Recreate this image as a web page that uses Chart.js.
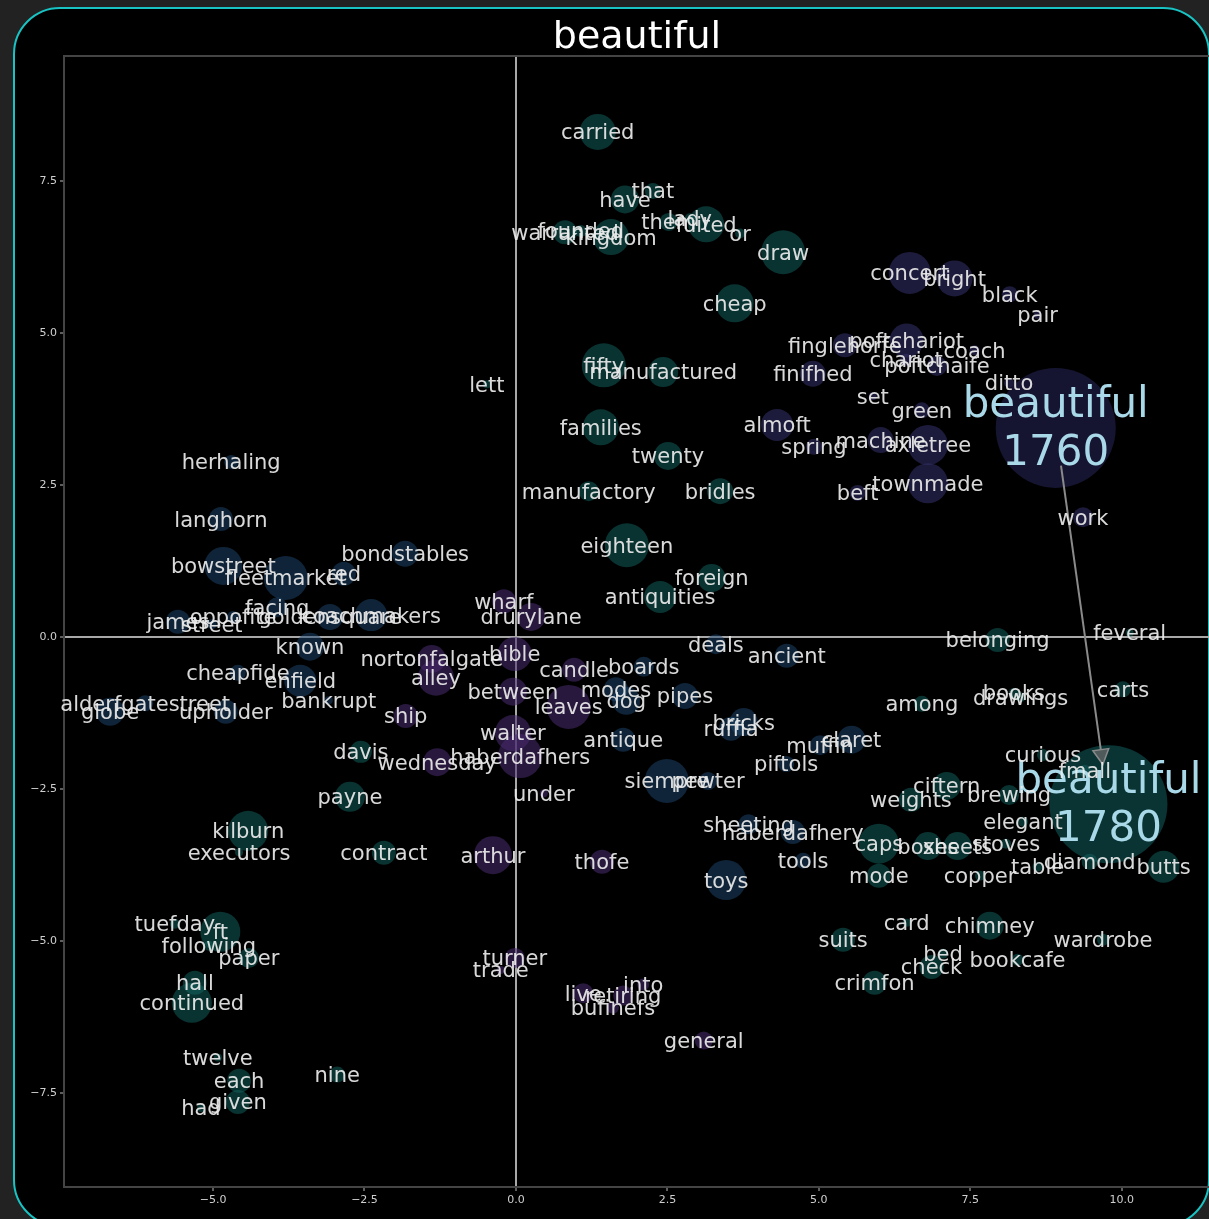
<!DOCTYPE html>
<html>
<head>
<meta charset="utf-8">
<script src="https://cdn.jsdelivr.net/npm/chart.js"></script>
<style>
  html, body { margin: 0; padding: 0; background: #222; overflow: hidden; width: 1209px; height: 1219px; }
  #frame { position: absolute; left: 13px; top: 7px; width: 1193px; height: 1216px; border: 2px solid #19c3c3; border-radius: 47px; background: #000; }
  #chart { position: absolute; left: 0; top: 0; }
</style>
</head>
<body>
<div id="frame"></div>
<canvas id="chart" width="1209" height="1219"></canvas>
<script>
// --- Axis ticks ---
const xTicks = [-5, -2.5, 0, 2.5, 5, 7.5, 10];
const yTicks = [-7.5, -5, -2.5, 0, 2.5, 5, 7.5];

// --- Words closest to 1780 (teal) ---
const tealWords = ['carried','have','that','warranted','founded','kingdom','them','lady','fuited','or',
  'draw','cheap','lett','fifty','manufactured','families','twenty','manufactory','bridles','eighteen',
  'foreign','antiquities','davis','payne','kilburn','executors','contract','weights','ciftern','brewing',
  'curious','fmall','elegant','caps','boxes','sheets','stoves','table','diamond','copper',
  'mode','butts','card','chimney','wardrobe','suits','bed','check','bookcafe','crimfon',
  'belonging','feveral','among','books','drawings','carts','tuefday','ft','following','paper',
  'hall','continued','twelve','each','given','had','nine'];
const tealX = [1.35,1.80,2.26,0.81,1.07,1.57,2.52,2.87,3.14,3.70,
  4.41,3.61,-0.48,1.45,2.43,1.40,2.51,1.20,3.37,1.83,
  3.23,2.38,-2.56,-2.74,-4.42,-4.57,-2.18,6.52,7.11,8.14,
  8.70,9.39,8.37,5.99,6.80,7.29,8.09,8.61,9.47,7.66,
  5.99,10.69,6.45,7.82,9.69,5.40,7.05,6.86,8.28,5.92,
  7.95,10.13,6.70,8.22,8.33,10.02,-5.63,-4.88,-5.07,-4.41,
  -5.30,-5.35,-4.92,-4.57,-4.59,-5.20,-2.95];
const tealY = [8.31,7.20,7.34,6.66,6.68,6.58,6.83,6.89,6.79,6.64,
  6.33,5.49,4.16,4.47,4.36,3.45,2.98,2.40,2.40,1.51,
  0.97,0.66,-1.89,-2.63,-3.19,-3.54,-3.55,-2.68,-2.45,-2.60,
  -1.94,-2.20,-3.04,-3.40,-3.44,-3.44,-3.40,-3.78,-3.70,-3.93,
  -3.93,-3.78,-4.70,-4.75,-4.98,-4.98,-5.21,-5.43,-5.31,-5.69,
  -0.05,0.07,-1.10,-0.92,-0.99,-0.86,-4.72,-4.85,-5.08,-5.28,
  -5.69,-6.02,-6.92,-7.30,-7.65,-7.75,-7.20];
const tealSize = [18,14,8,12,6,18,9,5,18,5,
  22,19,4,22,15,18,14,10,13,22,
  14,16,11,15,20,4,12,12,14,10,
  6,6,5,20,14,14,5,5,8,5,
  12,16,4,14,6,12,5,12,6,12,
  12,4,8,5,5,8,5,20,5,10,
  12,20,4,12,12,4,8];

// --- London / street words (blue) ---
const blueWords = ['herhaling','langhorn','bowstreet','fleetmarket','red','bondstables','james','street','oppofite','facing',
  'goldensquare','coachmakers','known','cheapfide','enfield','bankrupt','alderfgatestreet','globe','upholder','boards',
  'modes','dog','pipes','deals','ancient','bricks','ruffia','antique','muffin','claret',
  'piftols','siempre','pewter','toys','sheeting','haberdafhery','tools'];
const blueX = [-4.70,-4.87,-4.83,-3.80,-2.84,-1.83,-5.58,-5.02,-4.67,-3.94,
  -3.07,-2.39,-3.40,-4.59,-3.56,-3.09,-6.12,-6.70,-4.79,2.11,
  1.65,1.82,2.79,3.30,4.47,3.76,3.55,1.77,5.02,5.54,
  4.46,2.49,3.17,3.47,3.84,4.57,4.74];
const blueY = [2.88,1.94,1.17,0.97,1.04,1.37,0.25,0.21,0.33,0.49,
  0.33,0.36,-0.16,-0.59,-0.72,-1.04,-1.09,-1.23,-1.23,-0.49,
  -0.86,-1.05,-0.97,-0.12,-0.31,-1.40,-1.51,-1.69,-1.78,-1.69,
  -2.09,-2.37,-2.37,-4.00,-3.08,-3.21,-3.68];
const blueSize = [7,12,19,22,12,13,12,5,6,10,
  13,16,14,8,16,4,8,14,12,10,
  12,14,13,10,12,14,12,12,10,14,
  8,22,9,20,10,12,8];

// --- Words closest to 1760 (navy) ---
const navyWords = ['concert','bright','black','pair','finglehorfe','poftchariot','chariot','coach','poftchaife','finifhed',
  'set','green','ditto','almoft','spring','machine','axletree','townmade','beft','work'];
const navyX = [6.50,7.24,8.15,8.61,5.43,6.45,6.44,7.57,6.95,4.90,
  5.89,6.70,8.14,4.31,4.92,6.02,6.80,6.80,5.64,9.36];
const navyY = [5.99,5.90,5.64,5.30,4.80,4.88,4.56,4.72,4.46,4.33,
  3.96,3.73,4.18,3.49,3.13,3.24,3.16,2.53,2.37,1.97];
const navySize = [21,18,8,4,12,17,6,5,10,13,
  4,8,5,16,8,13,20,20,8,10];

// --- Middle-period words (purple) ---
const purpleWords = ['wharf','drurylane','nortonfalgate','alley','bible','ship','candle','between','leaves','walter',
  'haberdafhers','wednesday','under','arthur','thofe','turner','trade','live','retiring','into',
  'bufinefs','general'];
const purpleX = [-0.20,0.25,-1.39,-1.32,-0.02,-1.82,0.96,-0.05,0.87,-0.05,
  0.07,-1.30,0.46,-0.38,1.42,-0.02,-0.25,1.11,1.77,2.10,
  1.60,3.10];
const purpleY = [0.59,0.33,-0.36,-0.67,-0.28,-1.30,-0.54,-0.90,-1.15,-1.58,
  -1.96,-2.06,-2.57,-3.59,-3.70,-5.28,-5.48,-5.86,-5.90,-5.72,
  -6.10,-6.64];
const purpleSize = [12,14,14,18,17,12,12,14,22,18,
  22,14,4,19,12,10,4,10,10,6,
  6,9];

// --- The target word in both years ---
const anchorWords = ['beautiful\n1760', 'beautiful\n1780'];
const anchorX = [8.91, 9.78];
const anchorY = [3.44, -2.75];
const anchorSize = [60, 59];

// --- Styling ---
const colors = {
    teal: 'rgba(18,102,97,0.5)',
    blue: 'rgba(30,72,112,0.5)',
    navy: 'rgba(52,50,108,0.55)',
    purple: 'rgba(72,44,112,0.55)'
};

function makeData(words, xs, ys, rs) {
    return words.map((w, i) => ({ x: xs[i], y: ys[i], r: rs[i], label: w }));
}

function makeSet(words, xs, ys, rs, color, big) {
    return {
        data: makeData(words, xs, ys, rs),
        backgroundColor: color,
        borderWidth: 0,
        hoverRadius: 0,
        big: !!big
    };
}

const fmtTick = v => (v < 0 ? '\u2212' : '') + Math.abs(v).toFixed(1);

// --- Plugins ---
const frameAndTitle = {
    id: 'frameAndTitle',
    afterDraw(chart) {
        const { ctx, chartArea } = chart;
        ctx.save();
        ctx.strokeStyle = '#444';
        ctx.lineWidth = 2;
        ctx.beginPath();
        ctx.moveTo(chartArea.left, chartArea.top);
        ctx.lineTo(chartArea.right, chartArea.top);
        ctx.stroke();
        ctx.fillStyle = '#fff';
        ctx.font = '38px "DejaVu Sans"';
        ctx.textAlign = 'center';
        ctx.textBaseline = 'middle';
        ctx.fillText('beautiful', 637, 38);
        ctx.restore();
    }
};

const arrowPlugin = {
    id: 'arrowPlugin',
    afterDatasetsDraw(chart) {
        const ctx = chart.ctx;
        const xs = chart.scales.x, ys = chart.scales.y;
        const x1 = xs.getPixelForValue(anchorX[0]), y1 = ys.getPixelForValue(anchorY[0]);
        const x2 = xs.getPixelForValue(anchorX[1]), y2 = ys.getPixelForValue(anchorY[1]);
        const len = Math.hypot(x2 - x1, y2 - y1);
        const ux = (x2 - x1) / len, uy = (y2 - y1) / len;
        const sx = x1 + ux * 38, sy = y1 + uy * 38;
        const ex = x2 - ux * 40, ey = y2 - uy * 40;
        const head = 15, half = 8;
        ctx.save();
        ctx.strokeStyle = '#8a8a8a';
        ctx.lineWidth = 2;
        ctx.beginPath();
        ctx.moveTo(sx, sy);
        ctx.lineTo(ex - ux * head, ey - uy * head);
        ctx.stroke();
        ctx.beginPath();
        ctx.moveTo(ex, ey);
        ctx.lineTo(ex - ux * head - uy * half, ey - uy * head + ux * half);
        ctx.lineTo(ex - ux * head + uy * half, ey - uy * head - ux * half);
        ctx.closePath();
        ctx.fillStyle = '#4f5a5a';
        ctx.fill();
        ctx.lineWidth = 1.5;
        ctx.stroke();
        ctx.restore();
    }
};

const wordLabels = {
    id: 'wordLabels',
    afterDatasetsDraw(chart) {
        const ctx = chart.ctx;
        ctx.save();
        ctx.textAlign = 'center';
        ctx.textBaseline = 'middle';
        chart.data.datasets.forEach((ds, di) => {
            const meta = chart.getDatasetMeta(di);
            ctx.font = ds.big ? '42px "DejaVu Sans"' : '21px "DejaVu Sans"';
            ctx.fillStyle = ds.big ? '#a9d9e8' : 'rgba(236,236,236,0.92)';
            meta.data.forEach((pt, i) => {
                const lines = ds.data[i].label.split('\n');
                const step = 48;
                const top = pt.y + 2 - (lines.length - 1) * step / 2;
                lines.forEach((ln, k) => ctx.fillText(ln, pt.x, top + k * step));
            });
        });
        ctx.restore();
    }
};

const gridColor = c => (c.tick && c.tick.value === 0) ? '#a8a8a8' : 'rgba(0,0,0,0)';

new Chart(document.getElementById('chart'), {
    type: 'bubble',
    data: {
        datasets: [
            makeSet(anchorWords.slice(0, 1), anchorX.slice(0, 1), anchorY.slice(0, 1), anchorSize.slice(0, 1), 'rgba(40,38,90,0.55)', true),
            makeSet(anchorWords.slice(1), anchorX.slice(1), anchorY.slice(1), anchorSize.slice(1), 'rgba(18,95,95,0.55)', true),
            makeSet(tealWords, tealX, tealY, tealSize, colors.teal),
            makeSet(blueWords, blueX, blueY, blueSize, colors.blue),
            makeSet(navyWords, navyX, navyY, navySize, colors.navy),
            makeSet(purpleWords, purpleX, purpleY, purpleSize, colors.purple)
        ]
    },
    options: {
        responsive: false,
        animation: false,
        events: [],
        layout: { padding: { top: 56, left: 0, right: 0, bottom: 0 }, autoPadding: false },
        plugins: { legend: { display: false }, tooltip: { enabled: false }, title: { display: false } },
        scales: {
            x: {
                type: 'linear',
                min: -7.46,
                max: 11.44,
                afterFit(s) { s.height = 32; },
                afterBuildTicks(s) { s.ticks = xTicks.map(v => ({ value: v })); },
                ticks: { callback: fmtTick, color: '#cfcfcf', font: { size: 11, family: 'DejaVu Sans' }, padding: 3, maxRotation: 0, autoSkip: false },
                grid: { color: gridColor, lineWidth: 2, tickColor: '#bbb', tickLength: 4, tickWidth: 1 },
                border: { color: '#444', width: 2 }
            },
            y: {
                type: 'linear',
                min: -9.05,
                max: 9.56,
                afterFit(s) { s.width = 64; },
                afterBuildTicks(s) { s.ticks = yTicks.map(v => ({ value: v })); },
                ticks: { callback: fmtTick, color: '#cfcfcf', font: { size: 11, family: 'DejaVu Sans' }, padding: 3, autoSkip: false },
                grid: { color: gridColor, lineWidth: 2, tickColor: '#bbb', tickLength: 4, tickWidth: 1 },
                border: { color: '#444', width: 2 }
            }
        }
    },
    plugins: [frameAndTitle, arrowPlugin, wordLabels]
});
</script>
</body>
</html>
